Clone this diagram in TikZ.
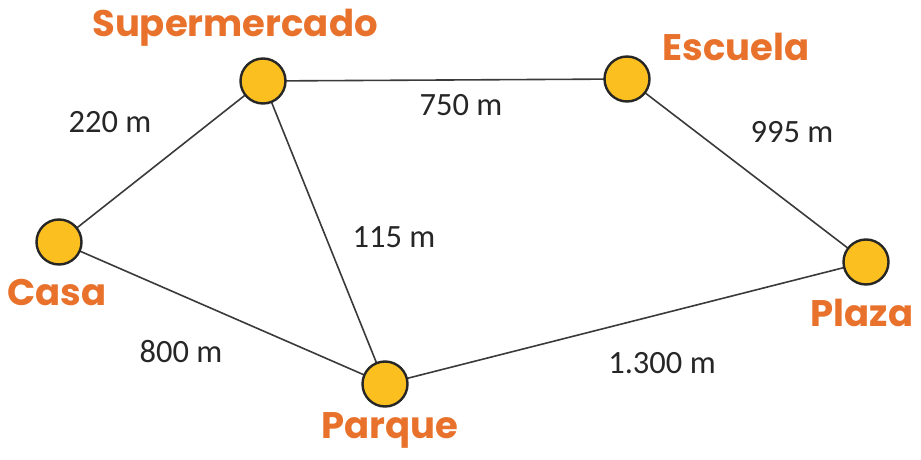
\documentclass[tikz,border=0pt]{standalone}
\usepackage{fontspec}
\setmainfont{Carlito}
\newfontfamily\labfont{Poppins}[UprightFont=* Bold]
\definecolor{placeorange}{HTML}{E8722C}
\definecolor{dotfill}{HTML}{FBC020}
\definecolor{edgegray}{HTML}{3A3A3A}
\begin{document}
\begin{tikzpicture}[x=1pt,y=-1pt,
  place/.style={circle,draw=black!85,line width=2.4pt,fill=dotfill,minimum size=45pt,inner sep=0pt},
  edge/.style={draw=edgegray,line width=1.6pt},
  pname/.style={anchor=base,text=placeorange,font=\labfont\fontsize{37}{37}\selectfont,inner sep=0pt},
  dist/.style={anchor=base,text=black!85,font=\fontsize{32.5}{32.5}\selectfont,inner sep=0pt}]
\useasboundingbox (0,0) rectangle (921,460);
\coordinate (cS) at (263,81);
\coordinate (cE) at (627,79);
\coordinate (cC) at (59,242);
\coordinate (cP) at (866,262);
\coordinate (cQ) at (385,384);
\draw[edge] (cC) -- (cS);
\draw[edge] (cS) -- (cE);
\draw[edge] (cE) -- (cP);
\draw[edge] (cS) -- (cQ);
\draw[edge] (cC) -- (cQ);
\draw[edge] (cQ) -- (cP);
\node[place] (S) at (cS) {};
\node[place] (E) at (cE) {};
\node[place] (C) at (cC) {};
\node[place] (P) at (cP) {};
\node[place] (Q) at (cQ) {};
\node[pname] (tS) at (235,37) {Supermercado};
\node[pname] (tE) at (736,60) {Escuela};
\node[pname] (tC) at (57,305) {Casa};
\node[pname] (tP) at (862,326) {Plaza};
\node[pname] (tQ) at (390,438) {Parque};
\node[dist] (d1) at (110,132) {220 m};
\node[dist] (d2) at (461,115) {750 m};
\node[dist] (d3) at (792,142) {995 m};
\node[dist] (d4) at (394,247) {115 m};
\node[dist] (d5) at (181,362) {800 m};
\node[dist] (d6) at (662,373) {1.300 m};
\end{tikzpicture}
\end{document}
